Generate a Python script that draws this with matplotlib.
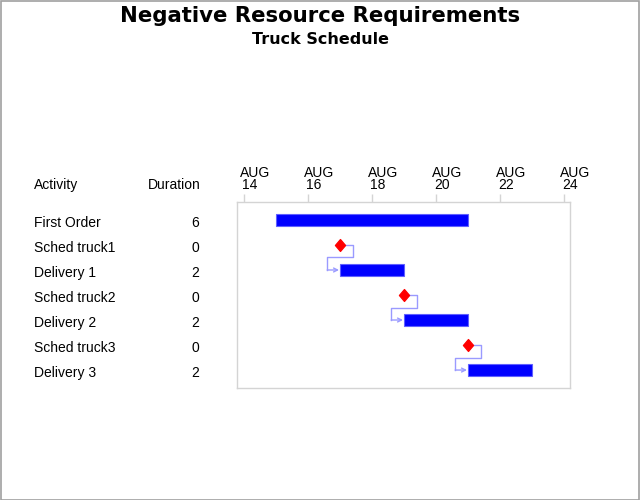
import matplotlib
matplotlib.use("Agg")
import matplotlib.pyplot as plt
import matplotlib.ticker as ticker
from matplotlib.path import Path
from matplotlib.patches import Rectangle

# Schedule data (start day in August, duration in days)
activities = ['First Order', 'Sched truck1', 'Delivery 1', 'Sched truck2',
              'Delivery 2', 'Sched truck3', 'Delivery 3']
durations = [6, 0, 2, 0, 2, 0, 2]
start_days = [15, 17, 17, 19, 19, 21, 21]
# successor links: (from activity index, to activity index)
links = [(1, 2), (3, 4), (5, 6)]
tick_days = [14, 16, 18, 20, 22, 24]
tick_month = 'AUG'

W, H = 640, 500
plt.rcParams['font.family'] = ['Liberation Sans', 'DejaVu Sans']

fig = plt.figure(figsize=(W / 100, H / 100), dpi=100)
fig.patch.set_facecolor('white')


def px(x, y):
    # pixel position (from top-left) to figure fraction
    return x / W, 1 - y / H


# outer border
fig.add_artist(Rectangle((0.0008, 0.001), 0.9984, 0.998, transform=fig.transFigure,
                         fill=False, edgecolor='#a0a0a0', linewidth=1.2))

fig.text(*px(320, 21.5), 'Negative Resource Requirements', ha='center', va='baseline',
         fontsize=15.3, fontweight='bold', family='DejaVu Sans', color='black')
fig.text(*px(320, 44), 'Truck Schedule', ha='center', va='baseline',
         fontsize=11.5, fontweight='bold', family='DejaVu Sans', color='black')

ax = fig.add_axes([237.3 / W, 1 - 388.3 / H, (570 - 237.3) / W, (388.3 - 201.7) / H])
ax.set_xlim(13.79, 24.19)
ax.set_ylim(6.73, -0.73)

for spine in ax.spines.values():
    spine.set_color('#d4d4d4')
    spine.set_linewidth(1.0)

ax.xaxis.set_ticks_position('top')
ax.xaxis.set_major_locator(ticker.FixedLocator(tick_days))
ax.tick_params(axis='x', which='major', direction='out', length=6, width=1.0,
               color='#d4d4d4', labeltop=False, labelbottom=False)
ax.tick_params(axis='y', left=False, labelleft=False)

# tick labels drawn as two lines: month and day
for d in tick_days:
    xd = ax.transData.transform((d, 0))[0]
    xf = (xd - 4) / W
    fig.text(xf, 1 - 176.7 / H, tick_month, ha='left', va='baseline', fontsize=10)
    fig.text(xf + 2 / W, 1 - 189.3 / H, str(d), ha='left', va='baseline', fontsize=10)

# diamond marker shape (a bit narrower than tall)
diamond = Path([(0, 1), (0.85, 0), (0, -1), (-0.85, 0), (0, 1)],
               [Path.MOVETO, Path.LINETO, Path.LINETO, Path.LINETO, Path.CLOSEPOLY])

for i, (s, d) in enumerate(zip(start_days, durations)):
    if d > 0:
        ax.barh(i, d, left=s, height=0.48, color='#0000ff', edgecolor='#6060ff',
                linewidth=0.8, zorder=3)
    else:
        ax.plot(s, i, marker=diamond, markersize=8.5, color='#ff0000',
                markeredgecolor='#ff0000', zorder=4, linestyle='none')

# connectors from milestone to its successor
link_col = '#9a9aff'
for a, b in links:
    x0 = start_days[a] + durations[a]
    x1 = start_days[b]
    xs = [x0 + 0.12, x0 + 0.4, x0 + 0.4, x1 - 0.4, x1 - 0.4, x1 - 0.03]
    ys = [a, a, (a + b) / 2, (a + b) / 2, b, b]
    ax.plot(xs[:-1], ys[:-1], color=link_col, linewidth=1.0, zorder=2)
    ax.annotate('', xy=(xs[-1], ys[-1]), xytext=(xs[-2], ys[-2]),
                arrowprops=dict(arrowstyle='->', color=link_col, lw=1.0,
                                shrinkA=0, shrinkB=0, mutation_scale=7), zorder=2)


# left-hand table
def row_baseline(row):
    yd = ax.transData.transform((14, row))[1]
    return (yd - 7.3) / H


fig.text(*px(34, 189), 'Activity', ha='left', va='baseline', fontsize=10)
fig.text(*px(200.5, 189), 'Duration', ha='right', va='baseline', fontsize=10)
for i, (name, d) in enumerate(zip(activities, durations)):
    y = row_baseline(i)
    fig.text(34 / W, y, name, ha='left', va='baseline', fontsize=10)
    fig.text(199 / W, y, str(d), ha='right', va='baseline', fontsize=10)

fig.savefig('out.png', dpi=100, facecolor='white')
